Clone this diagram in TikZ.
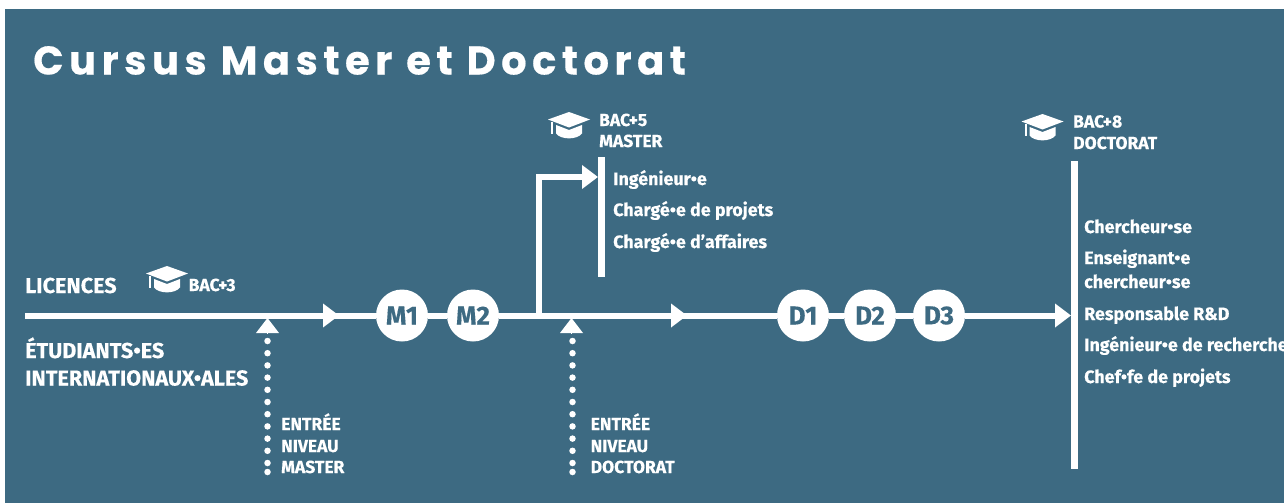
\documentclass[tikz,border=0pt]{standalone}
\usepackage{fontspec}
\setmainfont{Fira Sans}[BoldFeatures={FakeBold=0.25}]
\newfontfamily\titlefont[LetterSpace=13.7,BoldFeatures={FakeBold=0.4}]{Poppins}
\usetikzlibrary{arrows.meta}
\definecolor{bgblue}{HTML}{3D6A82}
\tikzset{
  x=1pt,y=-1pt,
  lbl/.style={text=white,font=\bfseries\fontsize{17.9}{17.9}\selectfont,anchor=base west,inner sep=0pt},
  lbls/.style={text=white,font=\bfseries\fontsize{17.5}{17.5}\selectfont,anchor=base west,inner sep=0pt},
  lblb/.style={text=white,font=\bfseries\fontsize{21.6}{21.6}\selectfont,anchor=base west,inner sep=0pt},
  stage/.style={circle,fill=white,minimum size=52pt,inner sep=0pt,text=bgblue,font=\bfseries\fontsize{26}{26}\selectfont},
  wline/.style={white,line width=6pt},
  warrow/.style={white,line width=6pt,-{Triangle[length=16pt,width=23pt]}},
  tri/.style={white,line width=0pt,-{Triangle[length=15pt,width=23pt]}},
  bar/.style={white,line width=7pt},
  dotline/.style={white,line width=6.5pt,line cap=round,dash pattern=on 0pt off 12.2pt},
  hat/.pic={
    \fill[white] (-21,0) -- (0,-7.5) -- (21,0) -- (0,8) -- cycle;
    \fill[white] (-13,5.5) -- (0,10.5) -- (13,5.5) -- (13,14) .. controls (8,20.5) and (-8,20.5) .. (-13,14) -- cycle;
    \fill[white] (-18,2) rectangle (-16,14);
  }
}
\begin{document}
\begin{tikzpicture}
\useasboundingbox (0,0) rectangle (1284,503);
\clip (0,0) rectangle (1284,503);
\fill[white] (0,0) rectangle (1284,503);
\fill[bgblue] (5,9) rectangle (1284,503);
\node[text=white,font=\titlefont\bfseries\fontsize{40}{40}\selectfont,anchor=base west,inner sep=0pt] (title) at (33,74.5) {Cursus Master et Doctorat};

\node[stage] (M1) at (402,315.5) {M1};
\node[stage] (M2) at (473,315.5) {M2};
\node[stage] (D1) at (803,315.5) {D1};
\node[stage] (D2) at (870,315.5) {D2};
\node[stage] (D3) at (939,315.5) {D3};
\coordinate (start) at (25,315.5);
\coordinate (a1) at (339,315.5);
\coordinate (a1b) at (330,315.5);
\coordinate (branch) at (539,315.5);
\coordinate (a2) at (687,315.5);
\coordinate (a2b) at (678,315.5);
\coordinate (a3) at (1071,315.5);
\coordinate (corner) at (539,177);
\coordinate (a4) at (598,177);
\draw[warrow] (start) -- (a1);
\draw[wline] (a1b) -- (M1);
\draw[wline] (M1) -- (M2);
\draw[wline] (M2) -- (branch);
\draw[warrow] (branch) -- (a2);
\draw[wline] (a2b) -- (D1);
\draw[wline] (D1) -- (D2);
\draw[wline] (D2) -- (D3);
\draw[warrow] (D3) -- (a3);
\draw[white,line width=6pt,line join=miter,-{Triangle[length=16pt,width=23pt]}] (branch) -- (corner) -- (a4);

\coordinate (bar1t) at (601.5,157); \coordinate (bar1b) at (601.5,277);
\coordinate (bar2t) at (1074.5,161); \coordinate (bar2b) at (1074.5,469);
\draw[bar] (bar1t) -- (bar1b);
\draw[bar] (bar2t) -- (bar2b);

\coordinate (e1) at (267.5,341); \coordinate (e1e) at (267.5,472);
\coordinate (t1b) at (267.5,333); \coordinate (t1t) at (267.5,318);
\coordinate (e2) at (572.5,341); \coordinate (e2e) at (572.5,472);
\coordinate (t2b) at (571.5,333); \coordinate (t2t) at (571.5,318);
\draw[dotline] (e1) -- (e1e);
\draw[dotline] (e2) -- (e2e);
\fill[white] (e1e) circle (3.25);
\fill[white] (e2e) circle (3.25);
\draw[tri] (t1b) -- (t1t);
\draw[tri] (t2b) -- (t2t);

\pic at (167,273.5) {hat};
\pic at (569,119.5) {hat};
\pic at (1042.5,121.5) {hat};

\node[lblb] (lic) at (25,293) {LICENCES};
\node[lbls] (b3) at (188.5,291) {BAC+3};
\node[lblb] (etu) at (25,358) {ÉTUDIANTS•ES};
\node[lblb] (int) at (25,385.5) {INTERNATIONAUX•ALES};

\node[lbls] (en1) at (281,430) {ENTRÉE};
\node[lbls] (ni1) at (281,452) {NIVEAU};
\node[lbls] (ma1) at (281,473) {MASTER};
\node[lbls] (en2) at (590.5,430) {ENTRÉE};
\node[lbls] (ni2) at (590.5,452) {NIVEAU};
\node[lbls] (do2) at (590.5,473) {DOCTORAT};

\node[lbls] (b5) at (599,126) {BAC+5};
\node[lbls] (ma5) at (599,147) {MASTER};
\node[lbl] (j1) at (613,185) {Ingénieur•e};
\node[lbl] (j2) at (613,216) {Chargé•e de projets};
\node[lbl] (j3) at (613,248) {Chargé•e d’affaires};

\node[lbls] (b8) at (1073,127.5) {BAC+8};
\node[lbls] (do8) at (1073,149) {DOCTORAT};
\node[lbl] (k1) at (1084,233) {Chercheur•se};
\node[lbl] (k2) at (1084,264) {Enseignant•e};
\node[lbl] (k3) at (1084,288) {chercheur•se};
\node[lbl] (k4) at (1084,320) {Responsable R\&D};
\node[lbl] (k5) at (1084,351) {Ingénieur•e de recherche};
\node[lbl] (k6) at (1084,383) {Chef•fe de projets};
\end{tikzpicture}
\end{document}
